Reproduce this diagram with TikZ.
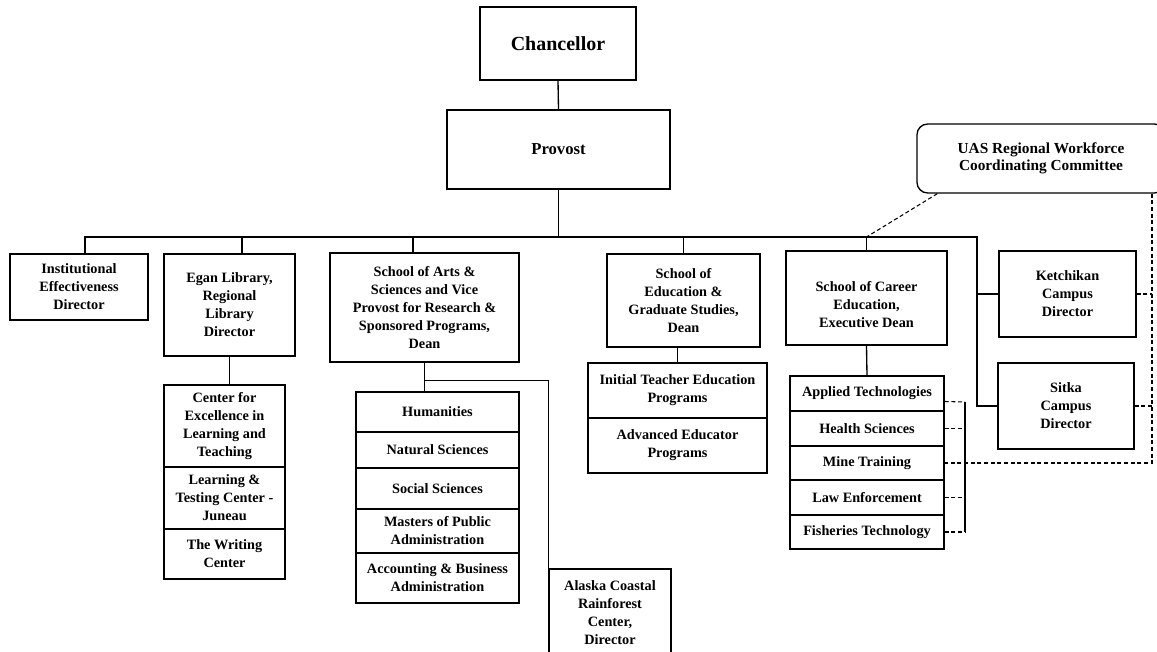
\documentclass[tikz,border=0pt]{standalone}
\usepackage{fontspec}
\usepackage{tikz}
\usepackage{xcolor}
\setmainfont{Liberation Serif}

\tikzset{
  unit/.style={draw, line width=1pt, align=center, inner sep=1pt,
    font=\bfseries\fontsize{10.7}{13.5}\selectfont},
  link/.style={line width=1pt},
  dashlink/.style={line width=0.8pt, dash pattern=on 3pt off 2pt}
}

\begin{document}
\begin{tikzpicture}[x=0.75pt,y=-0.75pt]
	    \useasboundingbox (0,0) rectangle (1157,652);
	    \clip (0,0) rectangle (1157,652);

            % draw top
	    \node[unit, minimum width=117pt, minimum height=54.75pt, font=\bfseries\fontsize{15}{18}\selectfont] (chancellor) at (558,43.5) {Chancellor};
	    \node[unit, minimum width=167.25pt, minimum height=59.25pt, font=\bfseries\fontsize{12.5}{15}\selectfont] (provost) at (558.5,149.5) {Provost};
	    \node[unit, rounded corners=8pt, minimum width=186pt, minimum height=51.75pt, font=\bfseries\fontsize{11.5}{13}\selectfont] (uas) at (1041,158.5) {UAS Regional Workforce\\Coordinating Committee};

            % draw second row
	    \node[unit, minimum width=103.5pt, minimum height=49.5pt] (ied) at (79,287) {Institutional\\Effectiveness\\Director};
	    \node[unit, minimum width=98.25pt, minimum height=76.5pt] (egan) at (229.5,305) {Egan Library,\\Regional\\Library\\Director};
	    \node[unit, minimum width=141.75pt, minimum height=81.75pt] (arts) at (424.5,307.5) {School of Arts \&\\Sciences and Vice\\Provost for Research \&\\Sponsored Programs,\\Dean};
	    \node[unit, minimum width=114.75pt, minimum height=69.75pt] (edu) at (683.5,300.5) {School of\\Education \&\\Graduate Studies,\\Dean};
	    \node[unit, minimum width=120.75pt, minimum height=70.5pt] (career) at (866.5,298) {\rule{0pt}{17pt}School of Career\\Education,\\Executive Dean};
	    \node[unit, minimum width=102.75pt, minimum height=64.5pt] (ketchikan) at (1067.5,294) {Ketchikan\\Campus\\Director};
	    \node[unit, minimum width=102pt, minimum height=64.5pt] (sitka) at (1066,406) {Sitka\\Campus\\Director};

            % draw library units
	    \node[unit, minimum width=90.75pt, minimum height=61.5pt] (celt) at (224.5,426) {Center for\\Excellence in\\Learning and\\Teaching};
	    \node[unit, minimum width=90.75pt, minimum height=46.5pt] (ltc) at (224.5,498) {Learning \&\\Testing Center -\\Juneau};
	    \node[unit, minimum width=90.75pt, minimum height=37.5pt] (writing) at (224.5,554) {The Writing\\Center};

            % draw arts units
	    \node[unit, minimum width=122.25pt, minimum height=30pt] (hum) at (437.5,412) {Humanities};
	    \node[unit, minimum width=122.25pt, minimum height=27pt] (nat) at (437.5,450) {Natural Sciences};
	    \node[unit, minimum width=122.25pt, minimum height=30.75pt] (soc) at (437.5,488.5) {Social Sciences};
	    \node[unit, minimum width=122.25pt, minimum height=33pt] (mpa) at (437.5,531) {Masters of Public\\Administration};
	    \node[unit, minimum width=122.25pt, minimum height=37.5pt] (acc) at (437.5,578) {Accounting \& Business\\Administration};
	    \node[unit, minimum width=91.5pt, minimum height=65.25pt] (alaska) at (610,612.5) {Alaska Coastal\\Rainforest\\Center,\\Director};

            % draw education units
	    \node[unit, minimum width=134.25pt, minimum height=41.25pt] (ite) at (677.5,390.5) {Initial Teacher Education\\Programs};
	    \node[unit, minimum width=134.25pt, minimum height=41.25pt] (aep) at (677.5,445.5) {Advanced Educator\\Programs};

            % draw career units
	    \node[unit, minimum width=115.5pt, minimum height=26.25pt] (applied) at (867,393.5) {Applied Technologies};
	    \node[unit, minimum width=115.5pt, minimum height=26.25pt] (health) at (867,428.5) {Health Sciences};
	    \node[unit, minimum width=115.5pt, minimum height=25.5pt] (mine) at (867,463) {Mine Training};
	    \node[unit, minimum width=115.5pt, minimum height=26.25pt] (law) at (867,497.5) {Law Enforcement};
	    \node[unit, minimum width=115.5pt, minimum height=25.5pt] (fish) at (867,532) {Fisheries Technology};

            % draw lines
	    \coordinate (busL) at (85,237);
	    \coordinate (busR) at (977,237);
	    \coordinate (rail) at (1152,463);
	    \coordinate (brk) at (965,402);
	    \draw[link] (chancellor.south) -- (provost.north);
	    \draw[link] (provost.south) -- (provost.south |- busL);
	    \draw[link] ([xshift=4.5pt]ied.north) |- (busR) -- (busR |- sitka.west) -- (sitka.west);
	    \draw[link] (ketchikan.west) -- (ketchikan.west -| busR);
	    \draw[link] ([xshift=9.4pt]egan.north) -- ([xshift=9.4pt]egan.north |- busL);
	    \draw[link] ([xshift=-8.6pt]arts.north) -- ([xshift=-8.6pt]arts.north |- busL);
	    \draw[link] (edu.north) -- (edu.north |- busL);
	    \draw[link] (career.north) -- (career.north |- busL);
	    \draw[link] (egan.south) -- (egan.south |- celt.north);
	    \draw[link] (arts.south) -- (arts.south |- hum.north);
	    \draw[link] ([yshift=-13.5pt]arts.south) -| (alaska.north west);
	    \draw[link] (ite.north) -- (ite.north |- edu.south);
	    \draw[link] (career.south) -- (applied.north);

            % draw dashed lines
	    \draw[dashlink] ([xshift=15.75pt]uas.south west) -- (career.north |- busL);
	    \draw[dashlink] (uas.south -| rail) -- (rail) -- (mine.east);
	    \draw[dashlink] (ketchikan.east) -- (ketchikan.east -| rail);
	    \draw[dashlink] (sitka.east) -- (sitka.east -| rail);
	    \draw[dashlink] ([yshift=-6pt]applied.east) -- (brk);
	    \draw[dashlink] (health.east) -- (health.east -| brk);
	    \draw[dashlink] (law.east) -- (law.east -| brk);
	    \draw[dashlink] (fish.east) -- (fish.east -| brk);
	    \draw[line width=0.8pt] (brk) -- (fish.east -| brk);
        \end{tikzpicture}
\end{document}
